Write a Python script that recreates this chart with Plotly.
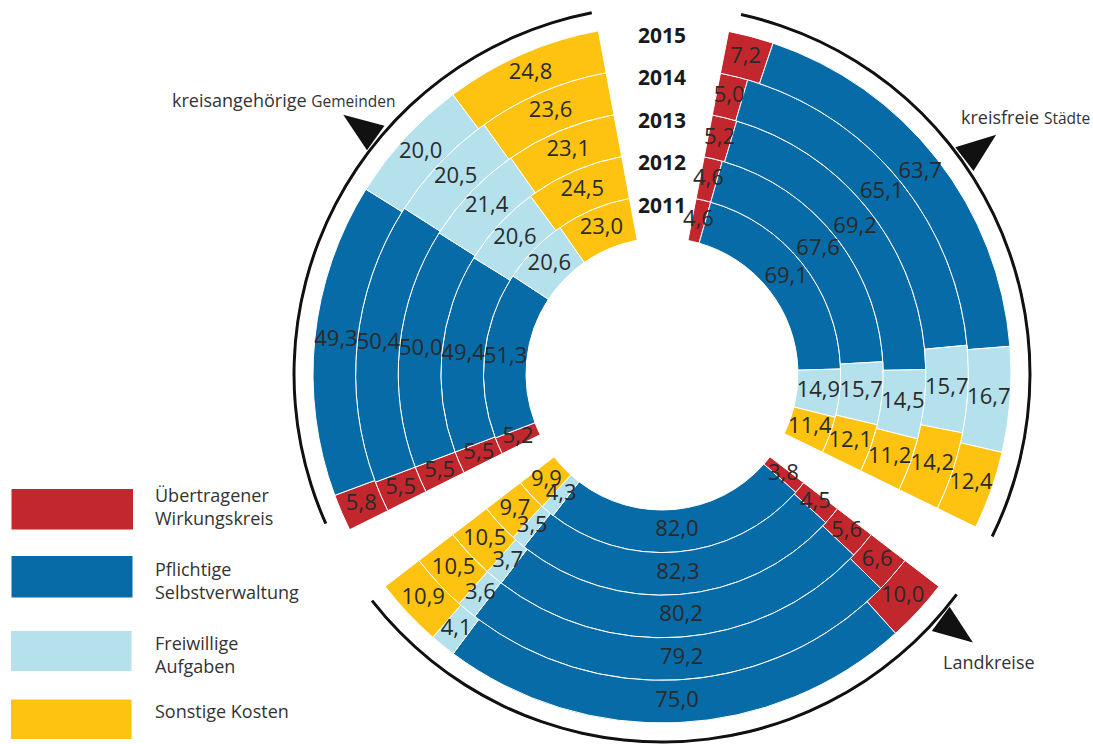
import numpy as np
import plotly.graph_objects as go

# ---------------- data ----------------
years = ["2011", "2012", "2013", "2014", "2015"]
categories = ["Übertragener<br>Wirkungskreis", "Pflichtige<br>Selbstverwaltung",
              "Freiwillige<br>Aufgaben", "Sonstige Kosten"]
sector_names = ["kreisfreie", "Städte", "Landkreise", "kreisangehörige", "Gemeinden"]

# kreisfreie Städte (2011..2015)
kfs_uebertragen = [4.6, 4.6, 5.2, 5.0, 7.2]
kfs_pflichtig = [69.1, 67.6, 69.2, 65.1, 63.7]
kfs_freiwillig = [14.9, 15.7, 14.5, 15.7, 16.7]
kfs_sonstige = [11.4, 12.1, 11.2, 14.2, 12.4]

# Landkreise (2011..2015)
lk_uebertragen = [3.8, 4.5, 5.6, 6.6, 10.0]
lk_pflichtig = [82.0, 82.3, 80.2, 79.2, 75.0]
lk_freiwillig = [4.3, 3.5, 3.7, 3.6, 4.1]
lk_sonstige = [9.9, 9.7, 10.5, 10.5, 10.9]

# kreisangehörige Gemeinden (2011..2015)
kag_uebertragen = [5.2, 5.5, 5.5, 5.5, 5.8]
kag_pflichtig = [51.3, 49.4, 50.0, 50.4, 49.3]
kag_freiwillig = [20.6, 20.6, 21.4, 20.5, 20.0]
kag_sonstige = [23.0, 24.5, 23.1, 23.6, 24.8]

# ---------------- styling / layout geometry ----------------
colors = ["#C1272D", "#066BA6", "#B4E1EC", "#FDC310"]
text_color = "#2a2a2a"
FONT = "Open Sans"

W, H = 1093, 744
CX, CY = 662, 374          # centre of the polar area in px
RP = 370                   # polar radius in px (radial units == px)
R_IN = 136                 # inner hole radius
RING = 42.6                # ring thickness per year
sector_spans = [(11.0, 116.0), (127.5, 232.5), (243.5, 349.5)]
arc_spans = [(12.4, 116.2), (126.8, 232.0), (246.0, 349.0)]
ARC_R, ARC_W = 366.5, 3.0

sector_values = [
    [kfs_uebertragen, kfs_pflichtig, kfs_freiwillig, kfs_sonstige],
    [lk_uebertragen, lk_pflichtig, lk_freiwillig, lk_sonstige],
    [kag_uebertragen, kag_pflichtig, kag_freiwillig, kag_sonstige],
]

fig = go.Figure()

label_r, label_t, label_txt = [], [], []
for ci in range(4):
    th, wd, bs, rr = [], [], [], []
    for si, (a0, a1) in enumerate(sector_spans):
        span = a1 - a0
        for yi in range(len(years)):
            vals = [sector_values[si][k][yi] for k in range(4)]
            tot = sum(vals)
            start = a0 + span * sum(vals[:ci]) / tot
            w = span * vals[ci] / tot
            th.append(start + w / 2)
            wd.append(w)
            bs.append(R_IN + yi * RING)
            rr.append(RING)
            label_r.append(R_IN + (yi + 0.5) * RING)
            label_t.append(start + w / 2)
            label_txt.append(f"{vals[ci]:.1f}".replace(".", ","))
    fig.add_trace(go.Barpolar(
        r=rr, theta=th, width=wd, base=bs,
        marker=dict(color=colors[ci], line=dict(color="white", width=1)),
        name=categories[ci].replace("<br>", " "), showlegend=False,
        hoverinfo="skip",
    ))

# outer black arcs
fig.add_trace(go.Barpolar(
    r=[ARC_W] * 3, base=[ARC_R] * 3,
    theta=[(a + b) / 2 for a, b in arc_spans],
    width=[b - a for a, b in arc_spans],
    marker=dict(color="#111111", line=dict(width=0)),
    showlegend=False, hoverinfo="skip",
))

# value labels
fig.add_trace(go.Scatterpolar(
    r=label_r, theta=label_t, mode="text", text=label_txt,
    textfont=dict(family=FONT, size=22, color=text_color),
    cliponaxis=False, showlegend=False, hoverinfo="skip",
))

# year labels in the top gap
fig.add_trace(go.Scatterpolar(
    r=[R_IN + (i + 0.5) * RING + 9 for i in range(len(years))],
    theta=[0] * len(years), mode="text", text=years,
    textfont=dict(family=FONT, size=21, color="#1a1a1a", weight="bold"),
    cliponaxis=False, showlegend=False, hoverinfo="skip",
))


def to_px(r, b):
    t = np.radians(b)
    return CX + r * np.sin(t), CY - r * np.cos(t)


def to_paper(x, y):
    return x / W, 1 - y / H


# arrow heads on the arcs (decoration)
shapes = []
for pos, direc in [(54.6, 52.6), (131.3, 126.4), (309.5, 305.6)]:
    mx, my = to_px(371, pos)
    p = np.radians(direc)
    dx, dy = np.sin(p), -np.cos(p)
    px_, py_ = np.cos(p), np.sin(p)
    pts = [(mx + 40 * dx, my + 40 * dy), (mx + 15 * px_, my + 15 * py_), (mx - 15 * px_, my - 15 * py_)]
    pp = [to_paper(x, y) for x, y in pts]
    path = "M {},{} L {},{} L {},{} Z".format(pp[0][0], pp[0][1], pp[1][0], pp[1][1], pp[2][0], pp[2][1])
    shapes.append(dict(type="path", xref="paper", yref="paper", path=path,
                       fillcolor="#111111", line=dict(width=0)))

# legend boxes (px)
legend_boxes = [(11.5, 489, 133, 529.5), (11.5, 556, 132.5, 597.5),
                (11, 631, 131.5, 671), (11, 699.5, 131.5, 739)]
legend_text_y = [507, 580, 654, 711]
annotations = []
for ci, (x0, y0, x1, y1) in enumerate(legend_boxes):
    a0 = to_paper(x0, y1)
    a1 = to_paper(x1, y0)
    shapes.append(dict(type="rect", xref="paper", yref="paper",
                       x0=a0[0], y0=a0[1], x1=a1[0], y1=a1[1],
                       fillcolor=colors[ci], line=dict(width=0)))
    tx, ty = to_paper(153, legend_text_y[ci])
    annotations.append(dict(x=tx, y=ty, xref="paper", yref="paper", text=categories[ci],
                            showarrow=False, xanchor="left", yanchor="middle", align="left",
                            font=dict(family=FONT, size=18, color="#333333")))

# sector titles
small = "<span style='font-size:15.5px'>{}</span>"
for txt, (x, y), anchor in [
    (sector_names[0] + " " + small.format(sector_names[1]), (959, 117), "left"),
    (sector_names[2], (941, 662), "left"),
    (sector_names[3] + " " + small.format(sector_names[4]), (397, 100), "right"),
]:
    ax, ay = to_paper(x, y)
    annotations.append(dict(x=ax, y=ay, xref="paper", yref="paper", text=txt,
                            showarrow=False, xanchor=anchor, yanchor="middle",
                            font=dict(family=FONT, size=18, color="#333333")))

fig.update_layout(
    width=W, height=H, autosize=False,
    margin=dict(l=0, r=0, t=0, b=0, pad=0),
    paper_bgcolor="white", plot_bgcolor="white",
    showlegend=False, hovermode=False,
    polar=dict(
        domain=dict(x=[(CX - RP) / W, (CX + RP) / W], y=[1 - (CY + RP) / H, 1 - (CY - RP) / H]),
        bgcolor="rgba(0,0,0,0)",
        bargap=0,
        radialaxis=dict(range=[0, RP], visible=False, showgrid=False, showline=False,
                        showticklabels=False, ticks=""),
        angularaxis=dict(rotation=90, direction="clockwise", visible=False, showgrid=False,
                         showline=False, showticklabels=False, ticks=""),
    ),
    shapes=shapes,
    annotations=annotations,
)

fig.write_html("out.html", config={"displayModeBar": False, "staticPlot": True},
               post_script="document.body.style.margin='0';document.body.style.overflow='hidden';")
